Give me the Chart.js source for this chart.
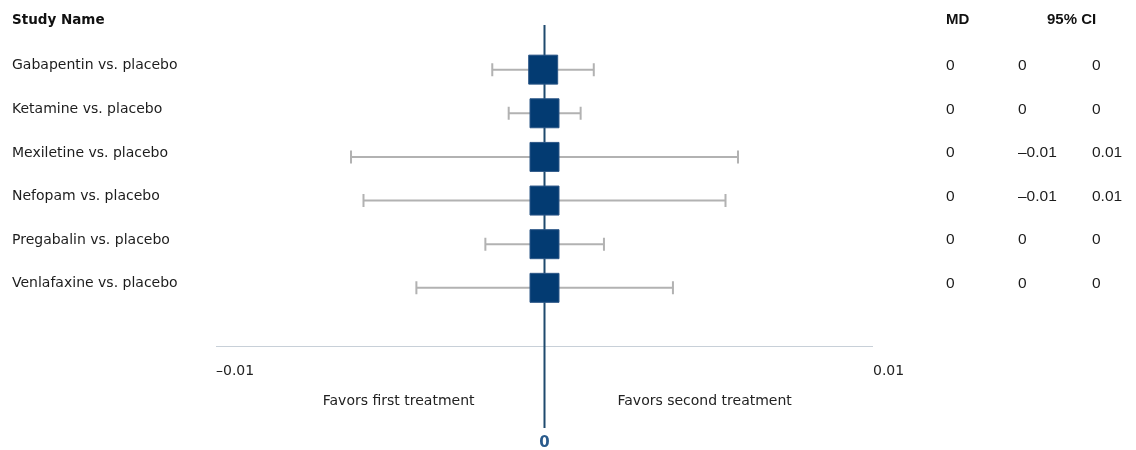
<!DOCTYPE html>
<html>
<head>
<meta charset="utf-8">
<script src="https://cdn.jsdelivr.net/npm/chart.js@4.4.1/dist/chart.umd.min.js"></script>
<style>
  html, body { margin: 0; padding: 0; background: #fff; }
  #wrap { width: 1136px; height: 450px; position: relative; }
</style>
</head>
<body>
<div id="wrap"><canvas id="forest"></canvas></div>
<script>
// Comparisons against placebo: mean difference with 95% confidence interval
const studies = [
  "Gabapentin vs. placebo",
  "Ketamine vs. placebo",
  "Mexiletine vs. placebo",
  "Nefopam vs. placebo",
  "Pregabalin vs. placebo",
  "Venlafaxine vs. placebo"
];
const md     = [-0.00004, 0.00000, 0.00000, 0.00000, 0.00000, 0.00000];
const ciLow  = [-0.00159, -0.00109, -0.00589, -0.00551, -0.00180, -0.00390];
const ciHigh = [ 0.00150,  0.00110,  0.00589,  0.00551,  0.00181,  0.00391];
const xTicks = [-0.01, 0.01];
const xMin = -0.01, xMax = 0.01;

const headerStudy = "Study Name";
const headerMD = "MD";
const headerCI = "95% CI";
const favorsLeft = "Favors first treatment";
const favorsRight = "Favors second treatment";

// rounded to two decimals, en dash for negatives
function fmt(v) {
  const r = Math.round(v * 100) / 100;
  if (r === 0) return "0";
  return (r < 0 ? "\u2013" : "") + String(Math.abs(r));
}

const rowFont = '14px "DejaVu Sans", sans-serif';
const numFont = '15.5px "Liberation Sans", Arial, sans-serif';

const forestPlugin = {
  id: 'forestDecor',
  beforeDatasetsDraw(chart) {
    const { ctx, scales: { x, y }, chartArea } = chart;
    ctx.save();
    // horizontal axis line
    ctx.strokeStyle = '#c8d0d8';
    ctx.lineWidth = 1;
    ctx.beginPath();
    ctx.moveTo(x.getPixelForValue(xMin), Math.round(chartArea.bottom) + 0.5);
    ctx.lineTo(x.getPixelForValue(xMax), Math.round(chartArea.bottom) + 0.5);
    ctx.stroke();

    // confidence interval whiskers
    ctx.strokeStyle = '#b2b2b2';
    ctx.lineWidth = 2;
    studies.forEach((s, i) => {
      const py = y.getPixelForValue(i + 1);
      const x1 = x.getPixelForValue(ciLow[i]);
      const x2 = x.getPixelForValue(ciHigh[i]);
      ctx.beginPath();
      ctx.moveTo(x1, py); ctx.lineTo(x2, py);
      ctx.moveTo(x1, py - 6.5); ctx.lineTo(x1, py + 6.5);
      ctx.moveTo(x2, py - 6.5); ctx.lineTo(x2, py + 6.5);
      ctx.stroke();
    });

    // line of no effect
    const x0 = x.getPixelForValue(0);
    ctx.strokeStyle = '#1f4a6e';
    ctx.lineWidth = 2;
    ctx.beginPath();
    ctx.moveTo(x0, chartArea.top - 1);
    ctx.lineTo(x0, 428);
    ctx.stroke();
    ctx.restore();
  },
  afterDraw(chart) {
    const { ctx, scales: { x, y } } = chart;
    ctx.save();
    ctx.textBaseline = 'middle';

    // headers
    ctx.fillStyle = '#111';
    ctx.font = 'bold 13.5px "DejaVu Sans", sans-serif';
    ctx.textAlign = 'left';
    ctx.fillText(headerStudy, 12, 20);
    ctx.font = 'bold 15px "Liberation Sans", Arial, sans-serif';
    ctx.fillText(headerMD, 946, 20);
    ctx.fillText(headerCI, 1047, 20);

    // rows
    studies.forEach((s, i) => {
      const ty = y.getPixelForValue(i + 1) - 4;
      ctx.fillStyle = '#1c1c1c';
      ctx.font = rowFont;
      ctx.fillText(s, 12, ty);
      ctx.font = numFont;
      ctx.fillText(fmt(md[i]), 946, ty);
      ctx.fillText(fmt(ciLow[i]), 1018, ty);
      ctx.fillText(fmt(ciHigh[i]), 1092, ty);
    });

    // tick labels
    ctx.fillStyle = '#222';
    ctx.font = rowFont;
    xTicks.forEach(t => {
      ctx.fillText(fmt(t), x.getPixelForValue(t), 371);
    });

    // favours labels
    const x0 = x.getPixelForValue(0);
    ctx.textAlign = 'right';
    ctx.fillText(favorsLeft, x0 - 70, 401);
    ctx.textAlign = 'left';
    ctx.fillText(favorsRight, x0 + 73, 401);

    // zero label
    ctx.textAlign = 'center';
    ctx.fillStyle = '#2a5b8c';
    ctx.font = 'bold 15px "DejaVu Sans", sans-serif';
    ctx.fillText("0", x0, 443);
    ctx.restore();
  }
};

new Chart(document.getElementById('forest'), {
  type: 'scatter',
  data: {
    datasets: [{
      data: md.map((v, i) => ({ x: v, y: i + 1 })),
      pointStyle: 'rect',
      pointRadius: 20.5,
      pointHoverRadius: 20.5,
      backgroundColor: '#033b72',
      borderColor: '#2b5687',
      borderWidth: 1
    }]
  },
  options: {
    responsive: true,
    maintainAspectRatio: false,
    animation: false,
    layout: { padding: { left: 216, right: 263, top: 26, bottom: 104 } },
    plugins: { legend: { display: false }, tooltip: { enabled: false } },
    scales: {
      x: { type: 'linear', min: xMin, max: xMax, display: false },
      y: { type: 'linear', min: 0, max: 7.333, reverse: true, display: false }
    }
  },
  plugins: [forestPlugin]
});
</script>
</body>
</html>
